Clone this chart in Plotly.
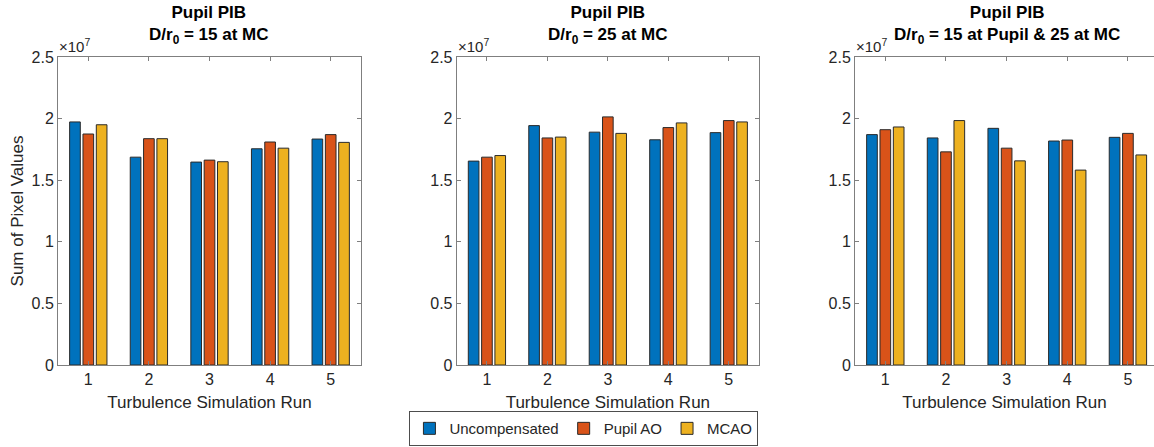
import plotly.graph_objects as go

# ---------------- data ----------------
runs = [1, 2, 3, 4, 5]
series_names = ["Uncompensated", "Pupil AO", "MCAO"]
series_colors = ["#0072BD", "#D95319", "#EDB120"]

titles = [
    "<b>Pupil PIB</b><br><b>D/r<sub>0</sub> = 15 at MC</b>",
    "<b>Pupil PIB</b><br><b>D/r<sub>0</sub> = 25 at MC</b>",
    "<b>Pupil PIB</b><br><b>D/r<sub>0</sub> = 15 at Pupil &amp; 25 at MC</b>",
]

# Sum of pixel values (panel 1: D/r0 = 15 at MC)
p1_uncomp = [1.973e7, 1.687e7, 1.647e7, 1.755e7, 1.834e7]
p1_pupil = [1.875e7, 1.837e7, 1.663e7, 1.810e7, 1.870e7]
p1_mcao = [1.950e7, 1.837e7, 1.650e7, 1.760e7, 1.807e7]

# panel 2: D/r0 = 25 at MC
p2_uncomp = [1.655e7, 1.943e7, 1.890e7, 1.828e7, 1.886e7]
p2_pupil = [1.687e7, 1.843e7, 2.014e7, 1.927e7, 1.984e7]
p2_mcao = [1.700e7, 1.850e7, 1.880e7, 1.965e7, 1.973e7]

# panel 3: D/r0 = 15 at Pupil & 25 at MC
p3_uncomp = [1.870e7, 1.843e7, 1.921e7, 1.818e7, 1.848e7]
p3_pupil = [1.910e7, 1.730e7, 1.760e7, 1.826e7, 1.880e7]
p3_mcao = [1.932e7, 1.984e7, 1.657e7, 1.582e7, 1.705e7]

y_tickvals = [0, 0.5e7, 1.0e7, 1.5e7, 2.0e7, 2.5e7]
y_ticktext = ["0", "0.5", "1", "1.5", "2", "2.5"]

panels = [
    [p1_uncomp, p1_pupil, p1_mcao],
    [p2_uncomp, p2_pupil, p2_mcao],
    [p3_uncomp, p3_pupil, p3_mcao],
]

# ---------------- layout geometry ----------------
W, H = 1154, 447
FONT = "Liberation Sans, Arial, Helvetica, sans-serif"
TXT = "#262626"
AX = "#7f7f7f"

x_domains = [[58 / W, 361 / W], [456.7 / W, 759 / W], [855 / W, 1.0]]
x_ranges = [[0.5, 5.5], [0.5, 5.5], [0.5, 5.43]]
y_domain = [1 - 365 / H, 1 - 57 / H]
title_centers = [209 / W, 607.5 / W, 1006.5 / W]

fig = go.Figure()

for i, pdata in enumerate(panels):
    xa = "x" if i == 0 else f"x{i+1}"
    ya = "y" if i == 0 else f"y{i+1}"
    for j, vals in enumerate(pdata):
        fig.add_trace(go.Bar(
            x=runs, y=vals, name=series_names[j],
            marker=dict(color=series_colors[j], line=dict(color="#2a2a2a", width=1)),
            xaxis=xa, yaxis=ya, showlegend=(i == 0),
            legendgroup=series_names[j],
        ))

layout = dict(
    width=W, height=H,
    margin=dict(l=0, r=0, t=0, b=0, autoexpand=False),
    paper_bgcolor="white", plot_bgcolor="white",
    font=dict(family=FONT, color=TXT, size=15),
    barmode="group", bargap=0.34, bargroupgap=0.2,
    showlegend=True,
    legend=dict(
        orientation="h", x=0.506, xanchor="center", y=0.002, yanchor="bottom",
        bordercolor="#4d4d4d", borderwidth=1, bgcolor="white",
        font=dict(size=15, color=TXT, family=FONT),
        itemclick=False, tracegroupgap=0, itemwidth=30,
    ),
)

annotations = []
for i in range(3):
    xk = "xaxis" if i == 0 else f"xaxis{i+1}"
    yk = "yaxis" if i == 0 else f"yaxis{i+1}"
    layout[xk] = dict(
        domain=x_domains[i], range=x_ranges[i], anchor="y" if i == 0 else f"y{i+1}",
        tickvals=runs, ticktext=[str(r) for r in runs],
        ticks="inside", ticklen=4, tickcolor=AX, tickwidth=1,
        showline=True, linecolor=AX, linewidth=1, mirror="ticks",
        showgrid=False, zeroline=False, fixedrange=True,
        tickfont=dict(size=16, color=TXT),
        title=dict(text="Turbulence Simulation Run", font=dict(size=17, color=TXT), standoff=8),
    )
    layout[yk] = dict(
        domain=y_domain, range=[0, 2.5e7], anchor="x" if i == 0 else f"x{i+1}",
        tickvals=y_tickvals, ticktext=y_ticktext,
        ticks="inside", ticklen=4, tickcolor=AX, tickwidth=1,
        showline=True, linecolor=AX, linewidth=1,
        mirror=("ticks" if i < 2 else False),
        showgrid=False, zeroline=False, fixedrange=True,
        tickfont=dict(size=16, color=TXT),
    )
    annotations.append(dict(
        text=titles[i], x=title_centers[i], xref="paper", xanchor="center",
        y=y_domain[1], yref="paper", yanchor="bottom", yshift=8,
        showarrow=False, font=dict(size=17, color="black", family=FONT), align="center",
    ))
    annotations.append(dict(
        text="\u00d710<sup>7</sup>", x=x_domains[i][0], xref="paper", xanchor="left",
        y=y_domain[1], yref="paper", yanchor="bottom", yshift=0, xshift=-1,
        showarrow=False, font=dict(size=15, color=TXT, family=FONT),
    ))

layout["yaxis"]["title"] = dict(text="Sum of Pixel Values", font=dict(size=17, color=TXT), standoff=3)
layout["annotations"] = annotations

fig.update_layout(**layout)
fig.write_html("out.html")
